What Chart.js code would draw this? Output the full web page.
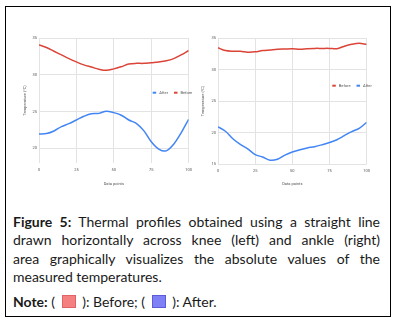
<!DOCTYPE html>
<html>
<head>
<meta charset="utf-8">
<script src="https://cdn.jsdelivr.net/npm/chart.js@4.4.1/dist/chart.umd.min.js"></script>
<style>
  body { margin: 0; background: #fff; }
  #frame { position: absolute; left: 5px; top: 6px; width: 384px; height: 309px; border: 1px solid #000; }
  #knee-chart { position: absolute; left: 0; top: 0; }
  #ankle-chart { position: absolute; left: 195px; top: 0; }
  #caption { position: absolute; left: 13px; top: 213px; width: 367px; font-family: Lato, sans-serif; font-size: 14px; line-height: 18.4px; color: #1a1a1a; }
  #caption .ln { text-align: justify; text-align-last: justify; white-space: nowrap; }
  #caption .ln.last { text-align-last: left; }
  #caption .note { margin-top: 6px; }
  .sw { display: inline-block; width: 12px; height: 11px; vertical-align: -1px; margin: 0 3px; }
  .sw.red { background: #f48080; border: 1px solid #e06464; }
  .sw.blue { background: #8080f6; border: 1px solid #5c5cd8; }
</style>
</head>
<body>
<div id="frame"></div>
<canvas id="knee-chart" width="197" height="195"></canvas>
<canvas id="ankle-chart" width="180" height="195"></canvas>
<div id="caption">
  <div class="ln"><b>Figure 5:</b> Thermal profiles obtained using a straight line</div>
  <div class="ln">drawn horizontally across knee (left) and ankle (right)</div>
  <div class="ln">area graphically visualizes the absolute values of the</div>
  <div class="ln last">measured temperatures.</div>
  <div class="note"><b>Note:</b> ( <span class="sw red"></span> ): Before; ( <span class="sw blue"></span> ): After.</div>
</div>
<script>
  // sample positions along the profile line
  const dataPoints = [0, 5, 10, 15, 20, 25, 30, 35, 40, 45, 50, 55, 60, 65, 70, 75, 80, 85, 90, 95, 100];

  // knee (left)
  const kneeBefore = [34.05, 33.7, 33.2, 32.7, 32.2, 31.75, 31.35, 31.05, 30.75, 30.6, 30.8, 31.1, 31.45, 31.55, 31.55, 31.65, 31.75, 31.9, 32.2, 32.7, 33.3];
  const kneeAfter = [21.95, 22.0, 22.35, 22.95, 23.35, 23.85, 24.35, 24.7, 24.75, 25.05, 24.85, 24.5, 23.85, 23.4, 22.4, 20.9, 19.9, 19.65, 20.55, 22.1, 23.95];

  // ankle (right)
  const ankleBefore = [33.45, 33.0, 32.9, 32.9, 32.75, 32.8, 33.0, 33.1, 33.2, 33.25, 33.3, 33.2, 33.3, 33.35, 33.35, 33.35, 33.3, 33.7, 34.0, 34.15, 34.0];
  const ankleAfter = [20.9, 20.2, 19.0, 18.1, 17.4, 16.5, 16.1, 15.6, 15.75, 16.4, 16.9, 17.25, 17.55, 17.75, 18.05, 18.4, 18.85, 19.5, 20.15, 20.65, 21.6];

  const xTicks = [0, 25, 50, 75, 100];
  const kneeYTicks = [20, 25, 30, 35];
  const ankleYTicks = [15, 20, 25, 30, 35];

  const RED = "#db4437";
  const BLUE = "#4285f4";
  const TXT = "#555";

  // small legend drawn inside the plot area
  const inlineLegend = {
    id: "inlineLegend",
    afterDraw(chart, args, opts) {
      const ctx = chart.ctx;
      let x = opts.x;
      ctx.save();
      ctx.font = "4px Roboto";
      ctx.textBaseline = "middle";
      chart.data.datasets.forEach((ds) => {
        ctx.strokeStyle = ds.borderColor;
        ctx.lineWidth = 2;
        ctx.beginPath();
        ctx.moveTo(x, opts.y);
        ctx.lineTo(x + 3.5, opts.y);
        ctx.stroke();
        x += 6.5;
        ctx.fillStyle = TXT;
        ctx.fillText(ds.label, x, opts.y);
        x += ctx.measureText(ds.label).width + 6;
      });
      ctx.restore();
    },
  };

  function series(label, values, color) {
    return {
      label,
      data: values.map((v, i) => ({ x: dataPoints[i], y: v })),
      borderColor: color,
      backgroundColor: color,
      borderWidth: 1.5,
      pointRadius: 0,
      tension: 0.35,
      fill: false,
    };
  }

  function makeChart(canvasId, cfg) {
    const font = { family: "Roboto", size: 4 };
    return new Chart(document.getElementById(canvasId), {
      type: "line",
      data: { datasets: cfg.datasets },
      options: {
        responsive: false,
        animation: false,
        devicePixelRatio: 1,
        layout: { padding: { left: 0, top: 38, right: cfg.padRight, bottom: 0 } },
        plugins: {
          legend: { display: false },
          tooltip: { enabled: false },
          inlineLegend: cfg.legend,
        },
        scales: {
          x: {
            type: "linear",
            min: 0,
            max: 100,
            afterBuildTicks: (s) => { s.ticks = xTicks.map((v) => ({ value: v })); },
            afterFit: (s) => { s.height = cfg.xHeight; },
            grid: { color: "#e3e3e3", drawTicks: false },
            border: { display: false },
            ticks: { font, color: TXT, padding: 5, maxRotation: 0 },
            title: { display: true, text: "Data points", font, color: TXT, padding: { top: 0, bottom: 9 } },
          },
          y: {
            min: cfg.yMin,
            max: 35,
            afterBuildTicks: (s) => { s.ticks = cfg.yTicks.map((v) => ({ value: v })); },
            afterFit: (s) => { s.width = cfg.yWidth; },
            grid: { color: "#e3e3e3", drawTicks: false },
            border: { display: false },
            ticks: { font, color: TXT, padding: 2 },
            title: { display: true, text: "Temperature (°C)", font, color: TXT, padding: { top: cfg.yTitlePad, bottom: 0 } },
          },
        },
      },
      plugins: [inlineLegend],
    });
  }

  makeChart("knee-chart", {
    datasets: [series("After", kneeAfter, BLUE), series("Before", kneeBefore, RED)],
    yMin: 18,
    yTicks: kneeYTicks,
    yWidth: 39,
    yTitlePad: 22.6,
    xHeight: 32,
    padRight: 7,
    legend: { x: 152.7, y: 92.7 },
  });

  makeChart("ankle-chart", {
    datasets: [series("Before", ankleBefore, RED), series("After", ankleAfter, BLUE)],
    yMin: 15,
    yTicks: ankleYTicks,
    yWidth: 23,
    yTitlePad: 5.9,
    xHeight: 31,
    padRight: 6,
    legend: { x: 137.3, y: 85.7 },
  });
</script>
</body>
</html>
